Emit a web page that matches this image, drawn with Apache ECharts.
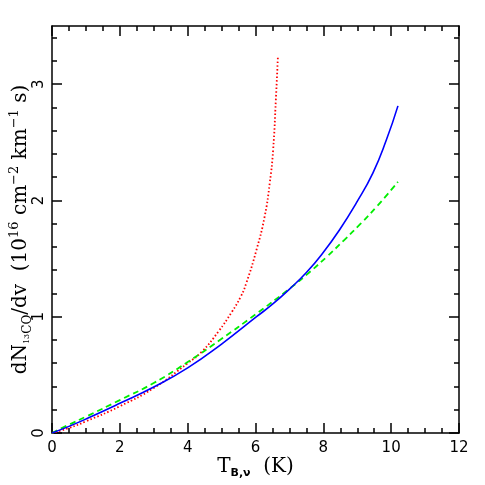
<!DOCTYPE html>
<html><head><meta charset="utf-8">
<script src="https://cdn.jsdelivr.net/npm/echarts@6/dist/echarts.min.js"></script>
<style>html,body{margin:0;padding:0;background:#fff}#c{width:485px;height:485px}</style>
</head><body><div id="c"></div>
<script>
// ---- data ----
const blueX = [0, 0.5, 1, 2, 3, 4, 5, 6.03, 6.52, 7.01, 7.5, 7.99, 8.48, 8.97, 9.46, 9.86, 10.2];
const blueY = [0, 0.057, 0.12, 0.255, 0.395, 0.56, 0.765, 1.0, 1.112, 1.24, 1.38, 1.55, 1.748, 1.977, 2.235, 2.521, 2.813];
const greenX = [0, 0.5, 1, 2, 3, 4, 5, 6, 7, 7.6, 8.1, 8.6, 9.1, 9.6, 10.2];
const greenY = [0, 0.072, 0.14, 0.283, 0.43, 0.61, 0.81, 1.02, 1.24, 1.385, 1.515, 1.655, 1.8, 1.955, 2.16];
const redX = [0, 0.5, 1, 2, 3, 4, 4.42, 4.91, 5.3, 5.56, 5.73, 6.03, 6.27, 6.42, 6.52, 6.6, 6.66];
const redY = [0, 0.043, 0.10, 0.23, 0.387, 0.60, 0.70, 0.874, 1.04, 1.17, 1.29, 1.576, 1.862, 2.149, 2.435, 2.865, 3.23];
const yMajor = [0, 1, 2, 3];
const yMinor = [0.2, 0.4, 0.6, 0.8, 1.2, 1.4, 1.6, 1.8, 2.2, 2.4, 2.6, 2.8, 3.2, 3.4];

const pairs = (xs, ys) => xs.map((x, i) => [x, ys[i]]);
const ax = { color: '#000', width: 1.5 };
const labFont = { fontFamily: 'DejaVu Sans', fontSize: 15, color: '#000' };
const serif = 'DejaVu Serif';

function yAx(pos, major, withLabel, withLine) {
  return {
    type: 'value', position: pos, min: 0, max: 3.5, interval: 1,
    axisLine: { show: withLine, onZero: false, lineStyle: ax },
    axisTick: { show: true, inside: true, length: major ? 10 : 5, lineStyle: ax,
                customValues: major ? yMajor : yMinor },
    axisLabel: withLabel ? Object.assign({ show: true, rotate: 90, margin: 5, customValues: yMajor }, labFont) : { show: false },
    splitLine: { show: false }
  };
}
function xAx(pos, withLabel) {
  return {
    type: 'value', position: pos, min: 0, max: 12, interval: 2,
    axisLine: { show: true, onZero: false, lineStyle: ax },
    axisTick: { show: true, inside: true, length: 10, lineStyle: ax },
    minorTick: { show: true, splitNumber: 4, length: 5, lineStyle: ax },
    axisLabel: withLabel ? Object.assign({ show: true, margin: 8 }, labFont) : { show: false },
    splitLine: { show: false }
  };
}

const xMain = xAx('bottom', true);
xMain.name = '{n|T}{s|B,ν}{n|  (K)}';
xMain.nameLocation = 'middle';
xMain.nameGap = 22;
xMain.nameMoveOverlap = false;
xMain.nameTextStyle = { rich: {
  n: { fontFamily: serif, fontSize: 20, color: '#000', lineHeight: 24, verticalAlign: 'middle' },
  s: { fontFamily: 'DejaVu Sans', fontSize: 11, fontWeight: 'bold', color: '#000', lineHeight: 11, verticalAlign: 'bottom' }
}};

const yMain = yAx('left', true, true, true);
yMain.name = '{n|dN}{t|13}{s|CO}{n|/dv  (10}{p|16}{n| cm}{p|−2}{n| km}{p|−1}{n| s)}';
yMain.nameLocation = 'middle';
yMain.nameGap = 18;
yMain.nameMoveOverlap = false;
yMain.nameTextStyle = { rich: {
  n: { fontFamily: serif, fontSize: 20, color: '#000', lineHeight: 26, verticalAlign: 'middle' },
  s: { fontFamily: serif, fontSize: 12, color: '#000', lineHeight: 12, verticalAlign: 'bottom' },
  t: { fontFamily: serif, fontSize: 8, color: '#000', lineHeight: 8, verticalAlign: 'bottom', padding: [0, 0, 3, 0] },
  p: { fontFamily: serif, fontSize: 13, color: '#000', lineHeight: 13, verticalAlign: 'top' }
}};

const chart = echarts.init(document.getElementById('c'), null, { renderer: 'canvas' });
chart.setOption({
  animation: false,
  backgroundColor: '#fff',
  grid: { left: 52, right: 26, top: 26, bottom: 52, containLabel: false, outerBoundsMode: 'none' },
  xAxis: [xMain, xAx('top', false)],
  yAxis: [yMain, yAx('left', false, false, false), yAx('right', true, false, true), yAx('right', false, false, false)],
  series: [
    { type: 'line', data: pairs(redX, redY), showSymbol: false, smooth: 0.5,
      lineStyle: { color: '#ff0000', width: 1.8, type: [1.5, 2.2] } },
    { type: 'line', data: pairs(greenX, greenY), showSymbol: false, smooth: 0.5,
      lineStyle: { color: '#00ee00', width: 1.8, type: [6, 4] } },
    { type: 'line', data: pairs(blueX, blueY), showSymbol: false, smooth: 0.5,
      lineStyle: { color: '#0000ff', width: 1.6 } }
  ]
});
</script></body></html>
